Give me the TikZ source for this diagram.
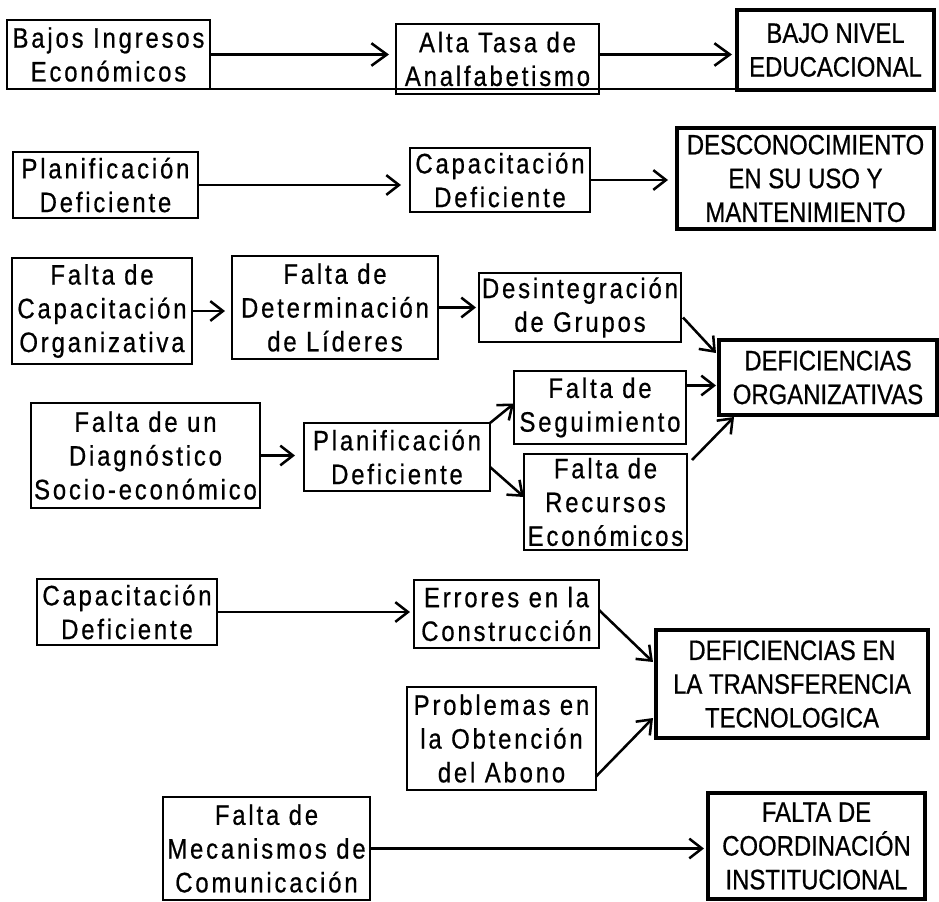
\documentclass[tikz,border=0pt]{standalone}
\usepackage{fontspec}
\setmainfont{Liberation Sans}[FakeStretch=0.85,FakeBold=0.6]
\newfontfamily\lowfont{Liberation Sans}[FakeStretch=0.85,FakeBold=0.6,LetterSpace=10]
\usetikzlibrary{arrows.meta,calc}
\tikzset{
  box/.style={draw, line width=1.8pt, inner sep=0pt, outer sep=0pt, align=center,
    font=\lowfont\fontsize{20}{24}\selectfont},
  bigbox/.style={draw, line width=3.4pt, inner sep=0pt, outer sep=0pt, align=center,
    font=\fontsize{20}{24}\selectfont},
  arr/.style={line width=1.8pt, -{Straight Barb[length=9pt,width=14pt,line width=1.8pt]}},
  bigarr/.style={line width=1.8pt, -{Straight Barb[length=11pt,width=16pt,line width=1.8pt]}},
  plain/.style={line width=1.8pt}
}
\begin{document}
\begin{tikzpicture}[x=0.025cm,y=-0.025cm]
\useasboundingbox (0,0) rectangle (939,901);
% row 1
\node[box, minimum width=203*0.025cm, minimum height=69*0.025cm] (bajos) at (108.5,54.5) {Bajos Ingresos\\Económicos};
\node[box, minimum width=203*0.025cm, minimum height=70*0.025cm] (alta) at (497.5,59) {Alta Tasa de\\Analfabetismo};
\node[bigbox, minimum width=197*0.025cm, minimum height=80*0.025cm] (bajo) at (835.5,50) {BAJO NIVEL\\EDUCACIONAL};
% row 2
\node[box, minimum width=185*0.025cm, minimum height=66*0.025cm] (plan1) at (105.5,185) {Planificación\\Deficiente};
\node[box, minimum width=180*0.025cm, minimum height=64*0.025cm] (cap1) at (500,180) {Capacitación\\Deficiente};
\node[bigbox, minimum width=257*0.025cm, minimum height=101*0.025cm] (desc) at (805.5,178.5) {DESCONOCIMIENTO\\EN SU USO Y\\MANTENIMIENTO};
% row 3
\node[box, minimum width=180*0.025cm, minimum height=106*0.025cm] (fcap) at (102,311) {Falta de\\Capacitación\\Organizativa};
\node[box, minimum width=206*0.025cm, minimum height=103*0.025cm] (fdet) at (335,307.5) {Falta de\\Determinación\\de Líderes};
\node[box, minimum width=202*0.025cm, minimum height=69*0.025cm] (desint) at (580,307.5) {Desintegración\\de Grupos};
\node[bigbox, minimum width=218*0.025cm, minimum height=75*0.025cm] (deforg) at (828,377.5) {DEFICIENCIAS\\ORGANIZATIVAS};
\node[box, minimum width=172*0.025cm, minimum height=73*0.025cm] (fseg) at (600,407.5) {Falta de\\Seguimiento};
\node[box, minimum width=229*0.025cm, minimum height=105*0.025cm] (fdiag) at (145.5,455.5) {Falta de un\\Diagnóstico\\Socio-económico};
\node[box, minimum width=186*0.025cm, minimum height=68*0.025cm] (plan2) at (397,457) {Planificación\\Deficiente};
\node[box, minimum width=163*0.025cm, minimum height=96*0.025cm] (frec) at (605.5,502) {Falta de\\Recursos\\Económicos};
% row 4
\node[box, minimum width=180*0.025cm, minimum height=66*0.025cm] (capdef) at (127,612) {Capacitación\\Deficiente};
\node[box, minimum width=185*0.025cm, minimum height=68*0.025cm] (err) at (506.5,614) {Errores en la\\Construcción};
\node[bigbox, minimum width=272*0.025cm, minimum height=108*0.025cm] (deftrans) at (792,684) {DEFICIENCIAS EN\\LA TRANSFERENCIA\\TECNOLOGICA};
\node[box, minimum width=189*0.025cm, minimum height=103*0.025cm] (prob) at (501.5,738.5) {Problemas en\\la Obtención\\del Abono};
% row 5
\node[box, minimum width=207*0.025cm, minimum height=103*0.025cm] (fmec) at (266.5,848.5) {Falta de\\Mecanismos de\\Comunicación};
\node[bigbox, minimum width=217*0.025cm, minimum height=106*0.025cm] (fcoord) at (816.5,846) {FALTA DE\\COORDINACIÓN\\INSTITUCIONAL};
% connectors
\draw[bigarr] (bajos.east) -- ($(alta.west |- bajos.east)+(-7,0)$);
\draw[bigarr] (alta.east |- bajos.east) -- ($(bajo.west |- bajos.east)+(-5,0)$);
\draw[plain] (bajos.south west) -- (bajo.west |- bajos.south west);
\draw[arr] (plan1.east) -- ($(cap1.west |- plan1.east)+(-9,0)$);
\draw[arr] (cap1.east) -- ($(desc.west |- cap1.east)+(-9,0)$);
\draw[arr] (fcap.east) -- ($(fdet.west |- fcap.east)+(-7,0)$);
\draw[arr] (fdet.east) -- ($(desint.west |- fdet.east)+(-3,0)$);
\draw[arr] ($(desint.east)+(2,10)$) -- ($(deforg.north west)+(-3,13)$);
\draw[arr] ($(fseg.east)+(0,-22)$) -- ($(deforg.west |- fseg.east)+(-3,-22)$);
\draw[arr] (fdiag.east) -- ($(plan2.west |- fdiag.east)+(-9,0)$);
\draw[arr] (plan2.north east) -- ($(fseg.west)+(0,-4)$);
\draw[arr] ($(plan2.east)+(0,10)$) -- ($(frec.west)+(0,-5)$);
\draw[arr] ($(frec.north east)+(5,6)$) -- ($(deforg.south west)+(15,2)$);
\draw[arr] (capdef.east) -- ($(err.west |- capdef.east)+(-4,0)$);
\draw[arr] ($(err.east)+(0,-4)$) -- ($(deftrans.west)+(-3,-22)$);
\draw[arr] ($(prob.east)+(0,38)$) -- ($(deftrans.west)+(-3,34)$);
\draw[arr] (fmec.east) -- ($(fcoord.west |- fmec.east)+(-4,0)$);
\end{tikzpicture}
\end{document}
